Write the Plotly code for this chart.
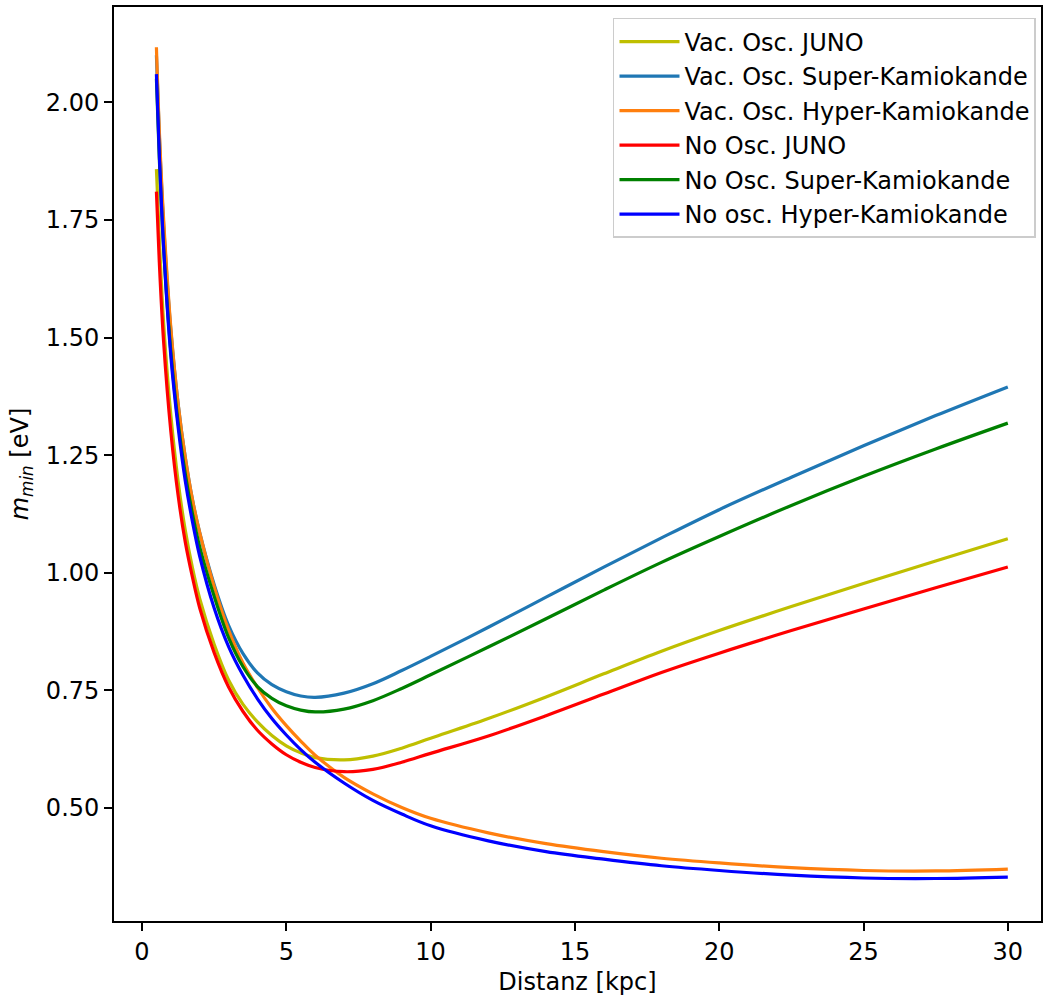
import plotly.graph_objects as go

# Distance grid in kpc
distance = [0.5, 0.6, 0.75, 1.0, 1.25, 1.5, 1.75, 2.0, 2.5, 3.0, 3.5, 4.0, 4.5, 5.0, 5.5,
            6.0, 7.0, 8.0, 9.0, 10.0, 12.0, 14.0, 16.0, 18.0, 20.0, 22.5, 25.0, 27.5, 30.0]

# Minimal detectable mass m_min [eV] for each detector / oscillation scenario
vac_juno = [1.858, 1.71, 1.53, 1.335, 1.195, 1.09, 1.01, 0.945, 0.848, 0.772, 0.72, 0.683,
            0.654, 0.632, 0.617, 0.607, 0.602, 0.610, 0.627, 0.648, 0.690, 0.736, 0.785,
            0.833, 0.877, 0.928, 0.977, 1.025, 1.072]
vac_sk = [2.10, 1.93, 1.74, 1.515, 1.36, 1.245, 1.155, 1.085, 0.975, 0.888, 0.828, 0.787,
          0.762, 0.747, 0.738, 0.735, 0.744, 0.764, 0.792, 0.822, 0.884, 0.948, 1.012,
          1.074, 1.134, 1.203, 1.27, 1.334, 1.395]
vac_hk = [2.117, 1.94, 1.75, 1.52, 1.36, 1.245, 1.155, 1.085, 0.970, 0.878, 0.808, 0.756,
          0.712, 0.675, 0.642, 0.612, 0.565, 0.530, 0.501, 0.478, 0.447, 0.424, 0.407,
          0.393, 0.383, 0.373, 0.367, 0.366, 0.370]
noosc_juno = [1.81, 1.66, 1.49, 1.30, 1.165, 1.065, 0.99, 0.925, 0.83, 0.757, 0.705, 0.665,
              0.636, 0.613, 0.597, 0.586, 0.577, 0.582, 0.597, 0.616, 0.653, 0.696, 0.742,
              0.788, 0.829, 0.877, 0.923, 0.968, 1.012]
noosc_sk = [2.05, 1.88, 1.69, 1.47, 1.32, 1.21, 1.125, 1.055, 0.950, 0.862, 0.80, 0.758,
            0.733, 0.717, 0.708, 0.704, 0.710, 0.728, 0.754, 0.783, 0.842, 0.902, 0.963,
            1.022, 1.077, 1.143, 1.205, 1.263, 1.318]
noosc_hk = [2.06, 1.89, 1.69, 1.46, 1.31, 1.195, 1.108, 1.035, 0.925, 0.843, 0.782, 0.732,
            0.690, 0.655, 0.624, 0.597, 0.553, 0.516, 0.487, 0.462, 0.430, 0.407, 0.391,
            0.377, 0.367, 0.357, 0.351, 0.350, 0.353]

series = [
    ("Vac. Osc. JUNO", vac_juno, "#bfbf00"),
    ("Vac. Osc. Super-Kamiokande", vac_sk, "#1f77b4"),
    ("Vac. Osc. Hyper-Kamiokande", vac_hk, "#ff7f0e"),
    ("No Osc. JUNO", noosc_juno, "#ff0000"),
    ("No Osc. Super-Kamiokande", noosc_sk, "#008000"),
    ("No osc. Hyper-Kamiokande", noosc_hk, "#0000ff"),
]

x_ticks = [0, 5, 10, 15, 20, 25, 30]
y_ticks = [0.50, 0.75, 1.00, 1.25, 1.50, 1.75, 2.00]

FONT = "DejaVu Sans"
FS = 24

fig = go.Figure()
for i, (name, values, color) in enumerate(series):
    fig.add_trace(go.Scatter(
        x=distance, y=values, name=name, mode="lines",
        line=dict(color=color, width=3.2, shape="spline", smoothing=1.0),
        legendgroup=f"g{i}",
    ))

axis_common = dict(
    showgrid=False, zeroline=False,
    showline=True, linecolor="black", linewidth=1.8, mirror=True,
    ticks="outside", ticklen=8, tickwidth=1.8, tickcolor="black",
    tickfont=dict(family=FONT, size=FS, color="black"),
)

fig.update_layout(
    width=1044, height=998,
    margin=dict(l=114, r=1, t=7, b=77),
    paper_bgcolor="white", plot_bgcolor="white",
    font=dict(family=FONT, size=FS, color="black"),
    xaxis=dict(range=[-0.97, 31.15], tickvals=x_ticks,
               title=dict(text="Distanz [kpc]", font=dict(family=FONT, size=FS), standoff=8),
               **axis_common),
    yaxis=dict(range=[0.2596, 2.2026], tickvals=y_ticks, tickformat=".2f",
               title=dict(text="<i>m</i><sub><i>min</i></sub> [eV]",
                          font=dict(family=FONT, size=FS), standoff=10),
               **axis_common),
    legend=dict(
        x=0.9946, y=0.988, xanchor="right", yanchor="top",
        bgcolor="rgba(255,255,255,0.8)", bordercolor="#cccccc", borderwidth=1.5,
        font=dict(family=FONT, size=FS, color="black"),
        traceorder="grouped", tracegroupgap=0.3, itemwidth=60,
    ),
    showlegend=True,
)

fig.write_html("out.html")
